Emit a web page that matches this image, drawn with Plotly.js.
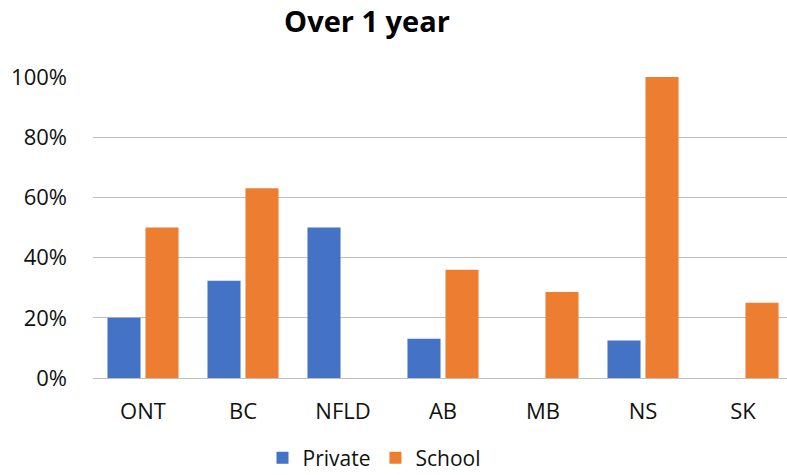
<!DOCTYPE html>
<html><head><meta charset="utf-8">
<script src="https://cdn.plot.ly/plotly-3.0.1.min.js"></script>
<style>html,body{margin:0;padding:0;background:#fff}#c{width:787px;height:475px}</style>
</head><body><div id="c"></div>
<script>
const categories = ["ONT","BC","NFLD","AB","MB","NS","SK"];
const privateVals = [0.20, 0.323, 0.50, 0.13, 0, 0.125, 0];
const schoolVals = [0.50, 0.63, 0, 0.36, 0.286, 1.00, 0.25];
const seriesNames = ["Private","School"];
const yTickVals = [0,0.2,0.4,0.6,0.8,1.0];

const font = "'Open Sans', sans-serif";
const data = [
  {type:'bar', name:seriesNames[0], x:categories, y:privateVals, marker:{color:'#4472C4'}},
  {type:'bar', name:seriesNames[1], x:categories, y:schoolVals, marker:{color:'#ED7D31'}}
];
const layout = {
  width:787, height:475,
  margin:{l:93, r:0, t:77, b:97},
  paper_bgcolor:'#fff', plot_bgcolor:'#fff',
  title:{text:'<b>Over 1 year</b>', x:367/787, xref:'container', xanchor:'center', y:453/475, yref:'container', yanchor:'middle', font:{family:font, size:29, color:'#000'}},
  barmode:'group', bargap:0.24, bargroupgap:0.13,
  xaxis:{range:[-0.5,6.44], showgrid:false, showline:true, linecolor:'#bfbfbf', linewidth:1, ticks:'', ticklabelstandoff:14, tickfont:{family:font, size:22, color:'#111'}, fixedrange:true},
  yaxis:{range:[0,1], tickvals:yTickVals, tickformat:'.0%', showgrid:true, gridcolor:'#bfbfbf', gridwidth:1, zeroline:false, ticks:'', ticklabelstandoff:25, tickfont:{family:font, size:22, color:'#111'}, fixedrange:true},
  showlegend:true,
  legend:{orientation:'h', x:374/787, xref:'container', xanchor:'center', y:17/475, yref:'container', yanchor:'middle', font:{family:font, size:21, color:'#111'}, itemwidth:30, traceorder:'normal'}
};
Plotly.newPlot('c', data, layout, {displayModeBar:false, staticPlot:true});
</script></body></html>
